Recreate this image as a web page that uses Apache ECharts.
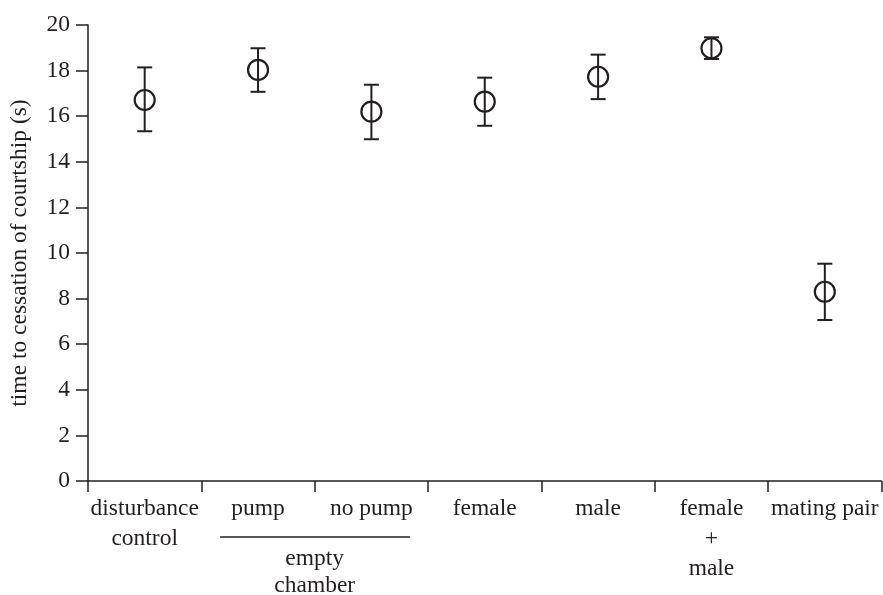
<!DOCTYPE html>
<html>
<head>
<meta charset="utf-8">
<script src="https://cdn.jsdelivr.net/npm/echarts@6/dist/echarts.min.js"></script>
<style>
html,body{margin:0;padding:0;background:#fff;}
#chart{width:883px;height:595px;}
</style>
</head>
<body>
<div id="chart"></div>
<script>
var categories = ['disturbance\ncontrol', 'pump', 'no pump', 'female', 'male', 'female\n+\nmale', 'mating pair'];
var means = [16.71, 18.03, 16.20, 16.64, 17.73, 18.98, 8.30];
var lows  = [15.34, 17.07, 14.99, 15.58, 16.75, 18.51, 7.06];
var highs = [18.14, 18.98, 17.38, 17.69, 18.70, 19.46, 9.53];
var yTicks = [0, 2, 4, 6, 8, 10, 12, 14, 16, 18, 20];
var groupLabel = 'empty\nchamber';
var groupMembers = [1, 2];

var ink = '#231f20';
var font = 'Liberation Serif';
var fs = 23.5;

var chart = echarts.init(document.getElementById('chart'));
var errData = categories.map(function (c, i) { return [i, lows[i], highs[i]]; });

chart.setOption({
  animation: false,
  grid: { left: 88, right: 1.5, top: 25, bottom: 114, containLabel: false, outerBoundsMode: 'none' },
  xAxis: {
    type: 'category',
    data: categories,
    boundaryGap: true,
    axisLine: { show: true, lineStyle: { color: ink, width: 1.5 } },
    axisTick: { show: true, length: 11, lineStyle: { color: ink, width: 1.5 } },
    axisLabel: { color: ink, fontFamily: font, fontSize: fs, margin: 13, lineHeight: 30, interval: 0 }
  },
  yAxis: {
    type: 'value',
    min: yTicks[0],
    max: yTicks[yTicks.length - 1],
    interval: 2,
    name: 'time to cessation of courtship (s)',
    nameLocation: 'middle',
    nameGap: 56,
    nameTextStyle: { color: ink, fontFamily: font, fontSize: fs },
    axisLine: { show: true, lineStyle: { color: ink, width: 1.5 } },
    axisTick: { show: true, length: 12, lineStyle: { color: ink, width: 1.5 } },
    axisLabel: { color: ink, fontFamily: font, fontSize: fs, margin: 18 },
    splitLine: { show: false }
  },
  series: [
    {
      type: 'custom',
      data: errData,
      renderItem: function (params, api) {
        var x = api.value(0);
        var lo = api.coord([x, api.value(1)]);
        var hi = api.coord([x, api.value(2)]);
        var hw = 7.5;
        var st = { stroke: ink, lineWidth: 2 };
        return {
          type: 'group',
          children: [
            { type: 'line', shape: { x1: lo[0], y1: lo[1], x2: hi[0], y2: hi[1] }, style: st },
            { type: 'line', shape: { x1: lo[0] - hw, y1: lo[1], x2: lo[0] + hw, y2: lo[1] }, style: st },
            { type: 'line', shape: { x1: hi[0] - hw, y1: hi[1], x2: hi[0] + hw, y2: hi[1] }, style: st }
          ]
        };
      },
      z: 2
    },
    {
      type: 'scatter',
      data: means,
      symbol: 'circle',
      symbolSize: 20,
      itemStyle: { color: 'rgba(255,255,255,0)', borderColor: ink, borderWidth: 2.2, opacity: 1 },
      z: 3
    }
  ]
});

// group bracket label under the axis
var pa = chart.convertToPixel({ xAxisIndex: 0 }, groupMembers[0]);
var pb = chart.convertToPixel({ xAxisIndex: 0 }, groupMembers[1]);
var band = pb - pa;
var axisY = chart.convertToPixel({ yAxisIndex: 0 }, 0);
var lineY = axisY + 56;
chart.setOption({
  graphic: [
    { type: 'line', shape: { x1: pa - band * 0.335, y1: lineY, x2: pb + band * 0.34, y2: lineY },
      style: { stroke: ink, lineWidth: 1.3 } },
    { type: 'text', x: (pa + pb) / 2, y: lineY + 8,
      style: { text: groupLabel, fill: ink, font: fs + 'px "' + font + '"', textAlign: 'center', textVerticalAlign: 'top', lineHeight: 27 } }
  ]
});
</script>
</body>
</html>
